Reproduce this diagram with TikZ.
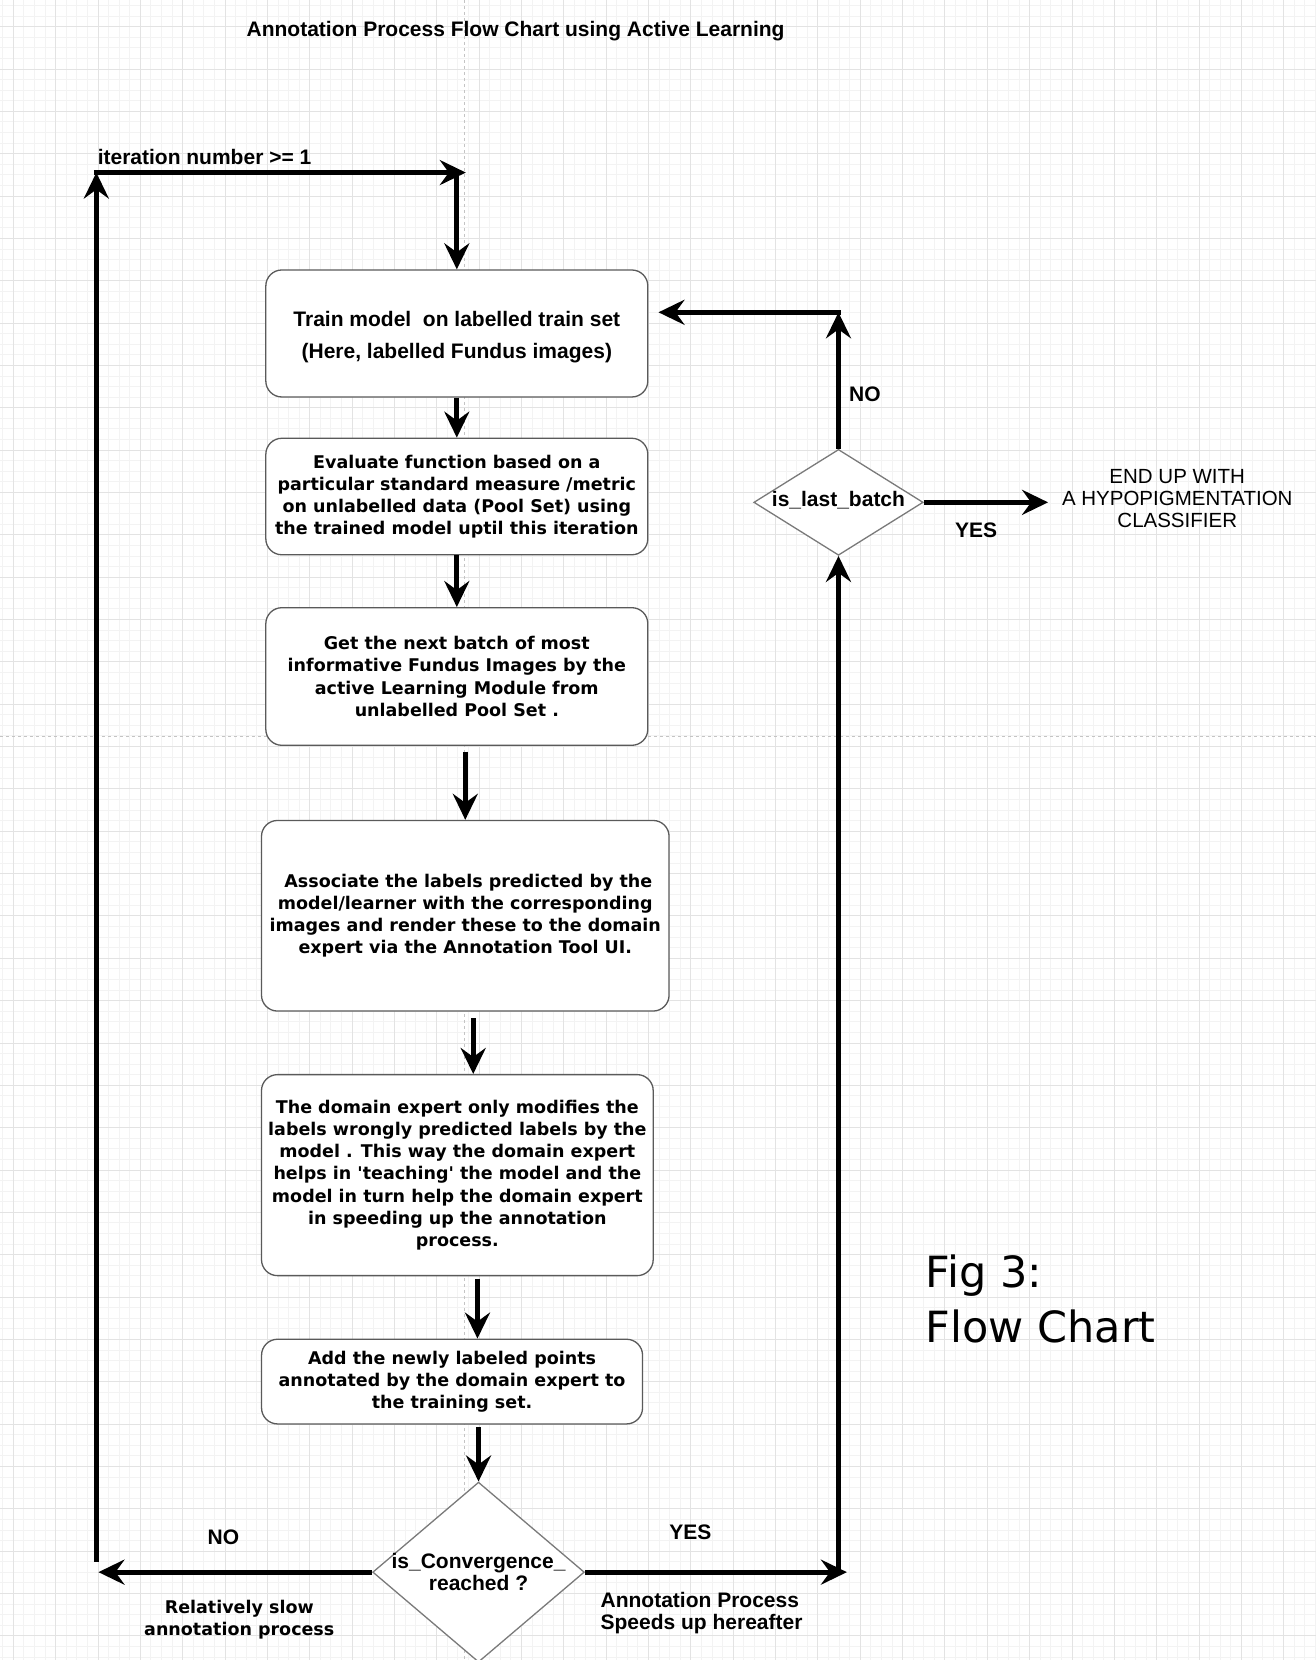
\documentclass[tikz,border=0pt]{standalone}
\usepackage{fontspec}
\setmainfont{Liberation Sans}
\newfontfamily\hel{Liberation Sans}
\newfontfamily\dej{DejaVu Sans}
\usetikzlibrary{arrows.meta,shapes.geometric}
\definecolor{gmin}{HTML}{F3F3F3}
\definecolor{gmaj}{HTML}{E3E3E3}
\definecolor{pgbrk}{HTML}{C4C4C4}
\definecolor{edge}{HTML}{5A5A5A}
\definecolor{dedge}{HTML}{7A7A7A}
\begin{document}
\begin{tikzpicture}[x=1.0587pt,y=-1.0587pt,
 box/.style={draw=edge, line width=1.3pt, rounded corners=16pt, fill=white, align=center, inner sep=0pt},
 dtext/.style={font=\dej\bfseries\fontsize{17.5}{22.2}\selectfont},
 htext/.style={font=\hel\bfseries\fontsize{21}{22.2}\selectfont},
 dia/.style={diamond, draw=dedge, line width=1.3pt, fill=white, inner sep=0pt},
 arr/.style={line width=5pt, -{Stealth[length=26pt,width=25pt,inset=9pt]}},
 gminor/.style={draw=gmin, line width=1pt},
 gmajor/.style={draw=gmaj, line width=1pt},
 pbreak/.style={draw=pgbrk, line width=1pt, dash pattern=on 3pt off 3pt}
]
\useasboundingbox (0,0) rectangle (1243,1568);
\fill[white] (0,0) rectangle (1243,1568);
% grid
\begin{scope}
\clip (0,0) rectangle (1243,1568);
\foreach \i in {0,...,124} { \draw[gminor] ({2.6+10*\i},0) -- ({2.6+10*\i},1568); }
\foreach \j in {0,...,156} { \draw[gminor] (0,{5.2+10*\j}) -- (1243,{5.2+10*\j}); }
\foreach \i in {0,...,31} { \draw[gmajor] ({12.6+40*\i},0) -- ({12.6+40*\i},1568); }
\foreach \j in {0,...,38} { \draw[gmajor] (0,{25.2+40*\j}) -- (1243,{25.2+40*\j}); }
\draw[pbreak] (439.2,0) -- (439.2,1568);
\draw[pbreak] (0,696) -- (1243,696);
\end{scope}

% title and top label
\node[htext] (title) at (487,29) {Annotation Process Flow Chart using Active Learning};
\node[htext, anchor=west] (iter) at (89,148) {iteration number >= 1};

% process boxes
\node[box, htext, font=\hel\bfseries\fontsize{21}{32}\selectfont, minimum width=382pt, minimum height=127pt] (b1) at (431.5,315) {};
\node[htext, font=\hel\bfseries\fontsize{21}{32}\selectfont, align=center] (b1t) at (431.5,318)
  {Train model\ \ on labelled train set\\(Here, labelled Fundus images)};
\node[box, dtext, minimum width=382pt, minimum height=116.5pt] (b2) at (431.5,469)
  {Evaluate function based on a\\particular standard measure /metric\\on unlabelled data (Pool Set) using\\the trained model uptil this iteration};
\node[box, dtext, minimum width=382pt, minimum height=137.6pt] (b3) at (431.5,639)
  {Get the next batch of most\\informative Fundus Images by the\\active Learning Module from\\unlabelled Pool Set .};
\node[box, dtext, minimum width=407.6pt, minimum height=190.6pt] (b4) at (439.5,865)
  {\ Associate the labels predicted by the\\model/learner with the corresponding\\images and render these to the domain\\expert via the Annotation Tool UI.};
\node[box, dtext, minimum width=391.7pt, minimum height=201pt] (b5) at (432,1110)
  {The domain expert only modifies the\\labels wrongly predicted labels by the\\model . This way the domain expert\\helps in 'teaching' the model and the\\model in turn help the domain expert\\in speeding up the annotation\\process.};
\node[box, dtext, minimum width=381pt, minimum height=84.7pt] (b6) at (427,1305)
  {Add the newly labeled points\\annotated by the domain expert to\\the training set.};

% decisions
\node[dia, minimum width=169.4pt, minimum height=105.9pt] (d1) at (792,474.5) {};
\node[htext] (d1t) at (792,472) {is\_last\_batch};
\node[dia, minimum width=211.7pt, minimum height=180pt] (d2) at (452,1485) {};
\node[htext, align=center] (d2t) at (452,1485) {is\_Convergence\_\\reached ?};

% coordinates for free ends
\coordinate (tl) at (91,163);
\coordinate (lb) at (91,1475);
\coordinate (trtip) at (440,163);
\coordinate (c5) at (439.5,710);
\coordinate (c6) at (447,962);
\coordinate (c7) at (451,1208);
\coordinate (c8) at (452,1348);
\coordinate (nl) at (93,1485);
\coordinate (yr) at (800,1485);
\coordinate (no1) at (792,295);
\coordinate (ntip) at (622,295);
\coordinate (etip) at (990,474.5);

% connectors
\draw[arr] (lb) -- (tl);
\draw[arr] ([xshift=-2.5pt]tl) -- (trtip);
\draw[arr] ([yshift=2.5pt]b1.north |- tl) -- (b1.north);
\draw[arr] (b1.south) -- (b2.north);
\draw[arr] (b2.south) -- (b3.north);
\draw[arr] (c5) -- (b4.north -| c5);
\draw[arr] (c6) -- (b5.north -| c6);
\draw[arr] (c7) -- (b6.north -| c7);
\draw[arr] (c8) -- (d2.north);
\draw[arr] (d2.west) -- (nl);
\draw[arr] (d2.east) -- (yr);
\draw[arr] ([yshift=-2pt]d1.south |- yr) -- (d1.south);
\draw[arr] (d1.north) -- (no1);
\draw[arr] ([xshift=2.5pt]no1) -- (ntip);
\draw[arr] (d1.east) -- (etip);

% labels
\node[htext] (lno1) at (817,372) {NO};
\node[htext] (lyes1) at (922,501) {YES};
\node[font=\hel\fontsize{20.5}{22.2}\selectfont, align=center] (endt) at (1112,471) {END UP WITH\\A HYPOPIGMENTATION\\CLASSIFIER};
\node[htext] (lno2) at (211,1452) {NO};
\node[dtext, align=center] (slow) at (226,1530) {Relatively slow\\annotation process};
\node[htext] (lyes2) at (652,1447) {YES};
\node[htext, align=left, anchor=west] (fast) at (564,1524) {Annotation Process\\Speeds up hereafter};
\node[font=\dej\fontsize{43}{55}\selectfont, align=left, anchor=west] (fig) at (871,1227) {Fig 3:\\Flow Chart};
\end{tikzpicture}
\end{document}
